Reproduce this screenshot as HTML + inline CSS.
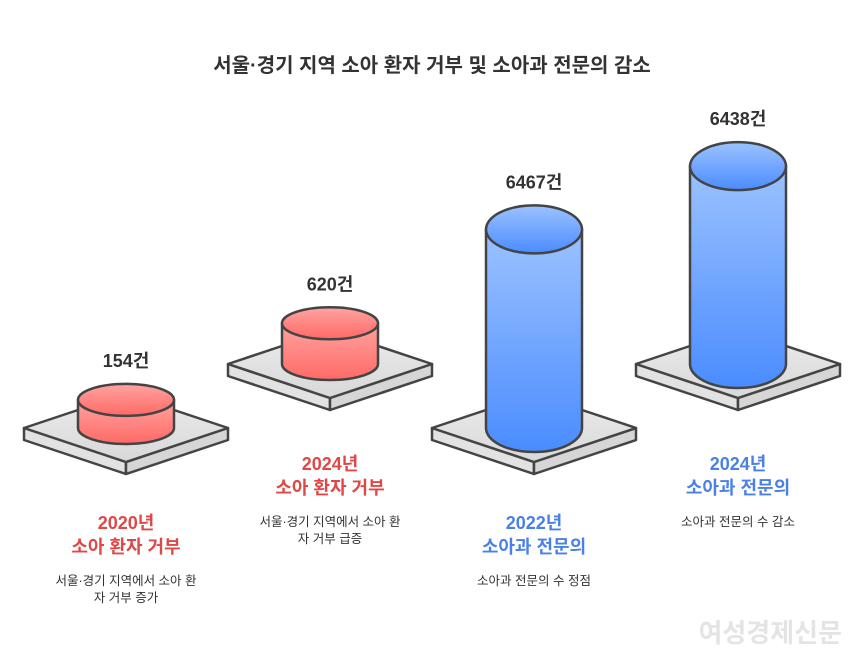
<!DOCTYPE html>
<html><head><meta charset="utf-8">
<style>
body{margin:0;background:#fff;width:864px;height:668px;overflow:hidden;font-family:"Liberation Sans","Noto Sans CJK KR",sans-serif;}
svg{position:absolute;left:0;top:0}
.t{font-weight:bold}
</style></head>
<body>
<svg width="864" height="668">
<defs>
<linearGradient id="gr" x1="0" y1="0" x2="0" y2="1"><stop offset="0" stop-color="#ffa3a0"/><stop offset="1" stop-color="#ff6a66"/></linearGradient>
<linearGradient id="gb" x1="0" y1="0" x2="0" y2="1"><stop offset="0" stop-color="#9cc2ff"/><stop offset="1" stop-color="#4a8cff"/></linearGradient>
<linearGradient id="gp" x1="0" y1="0" x2="0" y2="1"><stop offset="0" stop-color="#ececec"/><stop offset="1" stop-color="#d8d8d8"/></linearGradient>
</defs>
<text x="432" y="72" text-anchor="middle" font-size="20" font-weight="bold" fill="#333">서울·경기 지역 소아 환자 거부 및 소아과 전문의 감소</text>
<g id="g"></g>
<text x="842" y="642" text-anchor="end" font-size="26" font-weight="bold" fill="#e4e4e4">여성경제신문</text>
</svg>
<script>
const years=["2020년","2024년","2022년","2024년"];
const titles=["소아 환자 거부","소아 환자 거부","소아과 전문의","소아과 전문의"];
const descs=[["서울·경기 지역에서 소아 환","자 거부 증가"],["서울·경기 지역에서 소아 환","자 거부 급증"],["소아과 전문의 수 정점"],["소아과 전문의 수 감소"]];
const values=[154,620,6467,6438];
const valueLabels=["154건","620건","6467건","6438건"];
const kinds=["red","red","blue","blue"];
const ns="http://www.w3.org/2000/svg";
const g=document.getElementById('g');
function hScale(v){return 24+v*0.027;}
function mk(tag,at,parent){const e=document.createElementNS(ns,tag);for(const k in at)e.setAttribute(k,at[k]);(parent||g).appendChild(e);return e;}
values.forEach((v,i)=>{
  const cx=126+204*i, cy=(i%2===0)?428:364;
  const hw=102,hh=34,th=12;
  const grp=mk('g',{});
  
  
  const st={stroke:'#444','stroke-width':2.5,'stroke-linejoin':'round'};
  mk('path',Object.assign({d:`M${cx-hw} ${cy} L${cx} ${cy+hh} L${cx} ${cy+hh+th} L${cx-hw} ${cy+th} Z`,fill:'#e2e2e2'},st),grp);
  mk('path',Object.assign({d:`M${cx+hw} ${cy} L${cx} ${cy+hh} L${cx} ${cy+hh+th} L${cx+hw} ${cy+th} Z`,fill:'#d6d6d6'},st),grp);
  mk('path',Object.assign({d:`M${cx-hw} ${cy} L${cx} ${cy-hh} L${cx+hw} ${cy} L${cx} ${cy+hh} Z`,fill:'url(#gp)'},st),grp);
  const rx=48, ry=kinds[i]==='red'?16:24, h=hScale(v), top=cy-h;
  const fill=kinds[i]==='red'?'url(#gr)':'url(#gb)';
  mk('path',Object.assign({d:`M${cx-rx} ${top} L${cx-rx} ${cy} A${rx} ${ry} 0 0 0 ${cx+rx} ${cy} L${cx+rx} ${top} Z`,fill:fill},st),grp);
  mk('ellipse',Object.assign({cx:cx,cy:top,rx:rx,ry:ry,fill:fill},st),grp);
  const vl=mk('text',{x:cx,y:top-ry-17,'text-anchor':'middle','font-size':18,'font-weight':'bold',fill:'#333'},grp);
  
  
  vl.textContent=valueLabels[i];
  const col=kinds[i]==='red'?'#e04848':'#4a80e8';
  const ty=(i%2===0)?529:470;
  const y1=mk('text',{x:cx,y:ty,'text-anchor':'middle','font-size':18,'font-weight':'bold',fill:col});
  
  
  y1.textContent=years[i];
  const t1=mk('text',{x:cx,y:ty+24,'text-anchor':'middle','font-size':18,'font-weight':'bold',fill:col});
  
  
  t1.textContent=titles[i];
  descs[i].forEach((d,j)=>{
    const dt=mk('text',{x:cx,y:ty+56+j*17,'text-anchor':'middle','font-size':12.5,fill:'#333'});
    
    
    dt.textContent=d;
  });
});
</script>
</body></html>
